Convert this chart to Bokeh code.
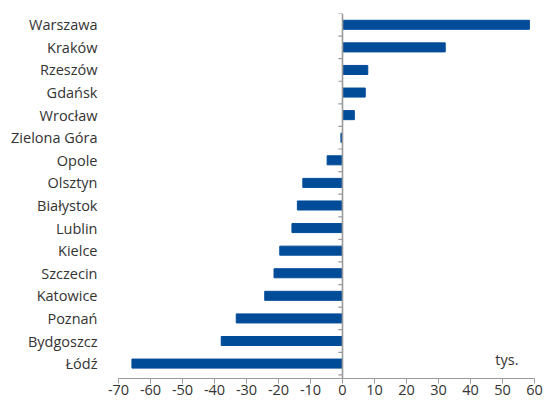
from bokeh.plotting import figure
from bokeh.models import Range1d, FixedTicker, Label, Span
from bokeh.embed import file_html
from bokeh.resources import INLINE

cities = ["Warszawa", "Kraków", "Rzeszów", "Gdańsk", "Wrocław", "Zielona Góra",
          "Opole", "Olsztyn", "Białystok", "Lublin", "Kielce", "Szczecin",
          "Katowice", "Poznań", "Bydgoszcz", "Łódź"]
values = [58.4, 32.1, 7.9, 7.1, 3.7, -0.5, -4.8, -12.4, -14.1, -15.8, -19.6,
          -21.4, -24.3, -33.2, -37.9, -65.8]
x_ticks = [-70, -60, -50, -40, -30, -20, -10, 0, 10, 20, 30, 40, 50, 60]
x_tick_labels = ["-70", "-60", "-50", "-40", "-30", "-20", "-10", "0", "10",
                 "20", "30", "40", "50", "60"]
unit_label = "tys."

FONT = "Open Sans"
TXT = "#333333"
GREY = "#9a9a9a"
BLUE = "#004c99"

n = len(cities)
pos = list(range(n))
bounds = [i - 0.5 for i in range(n + 1)]

p = figure(width=544, height=404, output_backend="svg", toolbar_location=None,
           x_range=Range1d(-70, 60), y_range=Range1d(n - 0.34, -0.5),
           min_border_left=118, min_border_right=10, min_border_top=13,
           min_border_bottom=26)
p.outline_line_color = None
p.grid.visible = False
p.background_fill_color = "white"

p.hbar(y=pos, left=0, right=values, height=0.4, color=BLUE)

# zero line with category boundary ticks
p.add_layout(Span(location=0, dimension="height", line_color=GREY, line_width=1.6))
p.segment(x0=[0] * len(bounds), x1=[-1.3] * len(bounds), y0=bounds, y1=bounds,
          line_color=GREY, line_width=1.2)

# y axis: labels only
yax = p.yaxis[0]
yax.ticker = FixedTicker(ticks=pos)
yax.major_label_overrides = {i: c for i, c in enumerate(cities)}
yax.axis_line_color = None
yax.major_tick_line_color = None
yax.minor_tick_line_color = None
yax.major_label_standoff = 15
yax.major_label_text_font = FONT
yax.major_label_text_font_size = "14.5px"
yax.major_label_text_color = TXT

# x axis
xax = p.xaxis[0]
xax.ticker = FixedTicker(ticks=x_ticks)
xax.major_label_overrides = dict(zip(x_ticks, x_tick_labels))
xax.axis_line_color = GREY
xax.axis_line_width = 1.2
xax.major_tick_line_color = GREY
xax.major_tick_out = 5
xax.major_tick_in = 0
xax.minor_tick_line_color = None
xax.major_label_standoff = 1
xax.major_label_text_font = FONT
xax.major_label_text_font_size = "14.5px"
xax.major_label_text_color = TXT

p.add_layout(Label(x=55, y=n - 1, text=unit_label, text_align="right",
                   text_baseline="middle", y_offset=4, text_font=FONT,
                   text_font_size="14.5px", text_color=TXT))

open("out.html", "w").write(file_html(p, INLINE))
